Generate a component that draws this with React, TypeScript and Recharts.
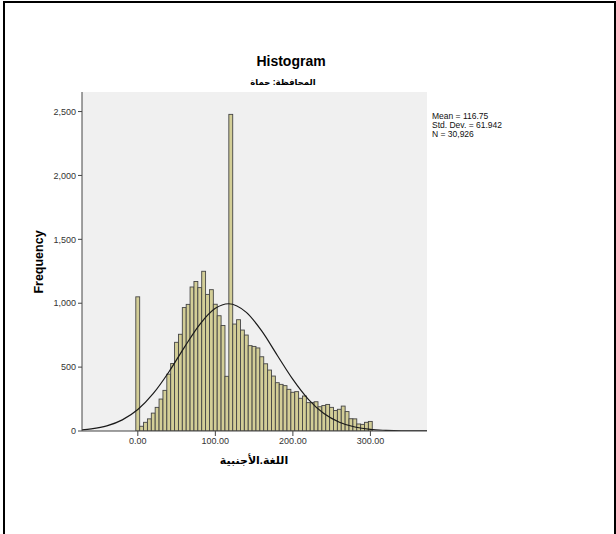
import React from 'react';
import { ComposedChart, Bar, Line, XAxis, YAxis, CartesianGrid } from 'recharts';

// Histogram bins (bin centres, width 5) and their frequencies
const binCenters = [
  0, 5, 10, 15, 20, 25, 30, 35, 40, 45, 50, 55, 60, 65, 70, 75, 80, 85, 90, 95,
  100, 105, 110, 115, 120, 125, 130, 135, 140, 145, 150, 155, 160, 165, 170, 175,
  180, 185, 190, 195, 200, 205, 210, 215, 220, 225, 230, 235, 240, 245, 250, 255,
  260, 265, 270, 275, 280, 285, 290, 295, 300,
];
const frequencies = [
  1050, 37, 68, 95, 140, 185, 250, 318, 445, 528, 694, 757, 966, 991, 1127, 1170,
  1122, 1250, 1069, 1106, 992, 902, 826, 428, 2478, 837, 871, 790, 751, 668, 662,
  650, 581, 526, 477, 430, 378, 365, 355, 326, 303, 308, 256, 274, 222, 222, 229,
  190, 200, 208, 185, 160, 170, 195, 152, 96, 95, 55, 52, 68, 75,
];

// Fitted normal curve
const curveX = [-72, -60, -40, -20, 0, 20, 40, 60, 80, 100, 117, 140, 160, 180, 200, 220, 240, 260, 280, 300, 320, 340, 373];
const curveY = [9, 17, 40, 87, 168, 294, 462, 655, 835, 960, 996, 928, 781, 591, 404, 248, 137, 69, 31, 12, 5, 1.5, 0.2];

const xTicks = [0, 100, 200, 300];
const yTicks = [0, 500, 1000, 1500, 2000, 2500];
const xDomain = [-72, 373];
const yDomain = [0, 2653];

const titleText = 'Histogram';
const subtitleText = 'المحافظة: حماة';
const xLabelText = 'اللغة.الأجنبية';
const yLabelText = 'Frequency';
const statsLines = ['Mean = 116.75', 'Std. Dev. = 61.942', 'N = 30,926'];

const barData = binCenters.map((x, i) => ({ x, count: frequencies[i] }));
const curveData = curveX.map((x, i) => ({ x, y: curveY[i] }));

const FONT = '"Liberation Sans", Arial, "DejaVu Sans", sans-serif';

const W = 616;
const H = 534;
const plotLeft = 82;
const plotRight = 427;
const plotTop = 92;
const plotBottom = 431;
const yAxisW = 60;
const xAxisH = 40;
const binPx = ((plotRight - plotLeft) * 5) / (xDomain[1] - xDomain[0]);

const BinShape = (props: any) => {
  const { x, y, width, height } = props;
  if (height == null || !(height > 0)) return null;
  const cx = x + width / 2;
  return (
    <rect
      x={cx - binPx / 2}
      y={y}
      width={binPx}
      height={height}
      fill="#d3ce97"
      stroke="#454545"
      strokeWidth={0.9}
    />
  );
};

export default function App() {
  return (
    <div style={{ position: 'absolute', left: 0, top: 0, width: W, height: H, background: '#fff', overflow: 'hidden', fontFamily: FONT }}>
      <div style={{ position: 'absolute', left: 3, top: 1, width: 609, height: 560, border: '2px solid #000' }} />
      <div style={{ position: 'absolute', left: 0, top: 0 }}>
        <ComposedChart
          width={W}
          height={H}
          data={barData}
          margin={{ left: plotLeft - yAxisW, right: W - plotRight, top: plotTop, bottom: H - plotBottom - xAxisH }}
          barCategoryGap={0}
          barGap={0}
        >
          <CartesianGrid fill="#f0f0f0" horizontal={false} vertical={false} />
          <XAxis
            dataKey="x"
            type="number"
            domain={xDomain}
            ticks={xTicks}
            allowDataOverflow
            height={xAxisH}
            tickFormatter={(v: number) => v.toFixed(2)}
            tick={{ fontSize: 9, fill: '#333', fontFamily: FONT }}
            tickSize={5}
            tickMargin={2}
            axisLine={{ stroke: '#444', strokeWidth: 1 }}
            tickLine={{ stroke: '#444' }}
          />
          <XAxis
            xAxisId="frameTop"
            orientation="top"
            type="number"
            domain={[0, 1]}
            height={0}
            tick={false}
            tickLine={false}
            axisLine={{ stroke: '#8a8a8a', strokeWidth: 1.5 }}
          />
          <YAxis
            type="number"
            domain={yDomain}
            ticks={yTicks}
            allowDataOverflow
            width={yAxisW}
            tickFormatter={(v: number) => v.toLocaleString('en-US')}
            tick={{ fontSize: 9, fill: '#333', fontFamily: FONT }}
            tickSize={4}
            tickMargin={2}
            axisLine={{ stroke: '#444', strokeWidth: 1 }}
            tickLine={{ stroke: '#444' }}
          />
          <YAxis
            yAxisId="frameRight"
            orientation="right"
            type="number"
            domain={[0, 1]}
            width={0}
            tick={false}
            tickLine={false}
            axisLine={{ stroke: '#8a8a8a', strokeWidth: 1.5 }}
          />
          <Bar
            dataKey="count"
            fill="#d3ce97"
            barSize={binPx}
            shape={BinShape}
            isAnimationActive={false}
          />
          <Line
            data={curveData}
            dataKey="y"
            type="monotone"
            stroke="#1a1a1a"
            strokeWidth={1.2}
            dot={false}
            activeDot={false}
            isAnimationActive={false}
          />
        </ComposedChart>
      </div>
      <div style={{ position: 'absolute', left: 191, top: 52, width: 200, textAlign: 'center', fontSize: 14, fontWeight: 'bold', lineHeight: '18px', color: '#000' }}>
        {titleText}
      </div>
      <div style={{ position: 'absolute', left: 203, top: 76, width: 160, textAlign: 'center', fontSize: 8.5, fontWeight: 'bold', lineHeight: '12px', color: '#000' }}>
        {subtitleText}
      </div>
      <div style={{ position: 'absolute', left: 432, top: 112, fontSize: 8.5, lineHeight: '9px', color: '#111' }}>
        {statsLines.map((s) => (
          <div key={s}>{s}</div>
        ))}
      </div>
      <div style={{ position: 'absolute', left: 154, top: 452, width: 200, textAlign: 'center', fontSize: 11, fontWeight: 'bold', lineHeight: '16px', color: '#000' }}>
        {xLabelText}
      </div>
      <div style={{ position: 'absolute', left: 39 - 50, top: 262 - 8, width: 100, height: 16, textAlign: 'center', fontSize: 12.5, fontWeight: 'bold', lineHeight: '16px', color: '#000', transform: 'rotate(-90deg)', transformOrigin: '50% 50%' }}>
        {yLabelText}
      </div>
    </div>
  );
}
